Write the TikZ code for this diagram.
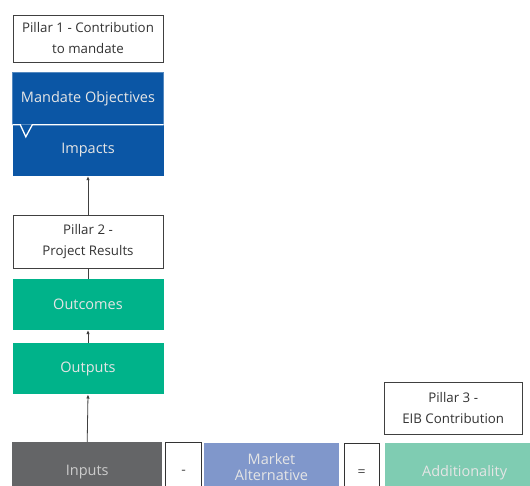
\documentclass[tikz,border=0pt]{standalone}
\usepackage{fontspec}
\setmainfont{Open Sans}
\usepackage{xcolor}
\usetikzlibrary{positioning,arrows.meta}

\definecolor{eibblue}{HTML}{0B56A5}
\definecolor{eibgreen}{HTML}{00B38A}
\definecolor{inputgray}{HTML}{646567}
\definecolor{marketblue}{HTML}{8097CB}
\definecolor{addgreen}{HTML}{7FCCB2}

\begin{document}
\begin{tikzpicture}[x=1pt,y=-1pt,
    pillar/.style={rectangle, draw=black!75, fill=white, text=black!80, minimum width=150pt, minimum height=47pt, align=center, inner sep=0pt, font=\fontsize{13.3}{21}\selectfont},
    stage/.style={rectangle, fill=#1, text=white!90!black, minimum width=151pt, minimum height=51pt, align=center, inner sep=0pt, font=\fontsize{14.5}{18}\selectfont},
    opbox/.style={rectangle, draw=black!80, fill=white, text=black!70, minimum width=36pt, minimum height=60pt, inner sep=0pt, font=\fontsize{14}{18}\selectfont},
    link/.style={-{Latex[length=4pt,width=3.5pt]}, line width=0.8pt, draw=black!75}]
    \clip (0,0) rectangle (530,486);
    \fill[white] (0,0) rectangle (530,486);

    % Pillar 1
    \node[pillar] (p1) at (88,38.5) {Pillar 1 - Contribution\\to mandate};
    \node[stage=eibblue, draw=eibblue!70!white, line width=0.6pt, minimum height=52pt, below=10pt of p1] (mandate) {Mandate Objectives};
    \node[stage=eibblue, below=0pt of mandate] (impacts) {Impacts};
    \draw[white, line width=1.3pt] (impacts.north west) -- ++(8,0) -- ++(5.5,12) -- ++(6.5,-12) -- (impacts.north east);

    % Pillar 2
    \node[pillar, minimum height=53pt] (p2) at (88,242) {Pillar 2 -\\Project Results};
    \node[stage=eibgreen, below=10pt of p2] (outcomes) {Outcomes};
    \node[stage=eibgreen, below=13pt of outcomes] (outputs) {Outputs};

    % Pillar 3
    \node[stage=inputgray, minimum width=150pt, minimum height=60pt, text=white!80!black, anchor=north west] (inputs) at (12,442) {Inputs};
    \node[opbox, right=3pt of inputs] (minus) {-};
    \fill[marketblue] (204,443) rectangle (339,500);
    \node[text=white!90!black, align=center, inner sep=0pt, font=\fontsize{14.5}{16}\selectfont] (market) at (271.5,467) {Market\\Alternative};
    \node[opbox, minimum width=35pt, anchor=north west] (equals) at (344,443) {=};
    \node[stage=addgreen, minimum width=160pt, minimum height=60pt, right=5pt of equals] (additionality) {Additionality};
    \node[pillar, minimum width=138pt, minimum height=52pt, anchor=north west] (p3) at (384,382) {Pillar 3 -\\EIB Contribution};

    \draw[link] (p2.north) -- (impacts.south);
    \draw[line width=0.8pt, draw=black!75] (p2.south) -- (outcomes.north);
    \draw[link] (outputs.north) -- (outcomes.south);
    \draw[link] (inputs.north) -- (outputs.south);
\end{tikzpicture}
\end{document}
